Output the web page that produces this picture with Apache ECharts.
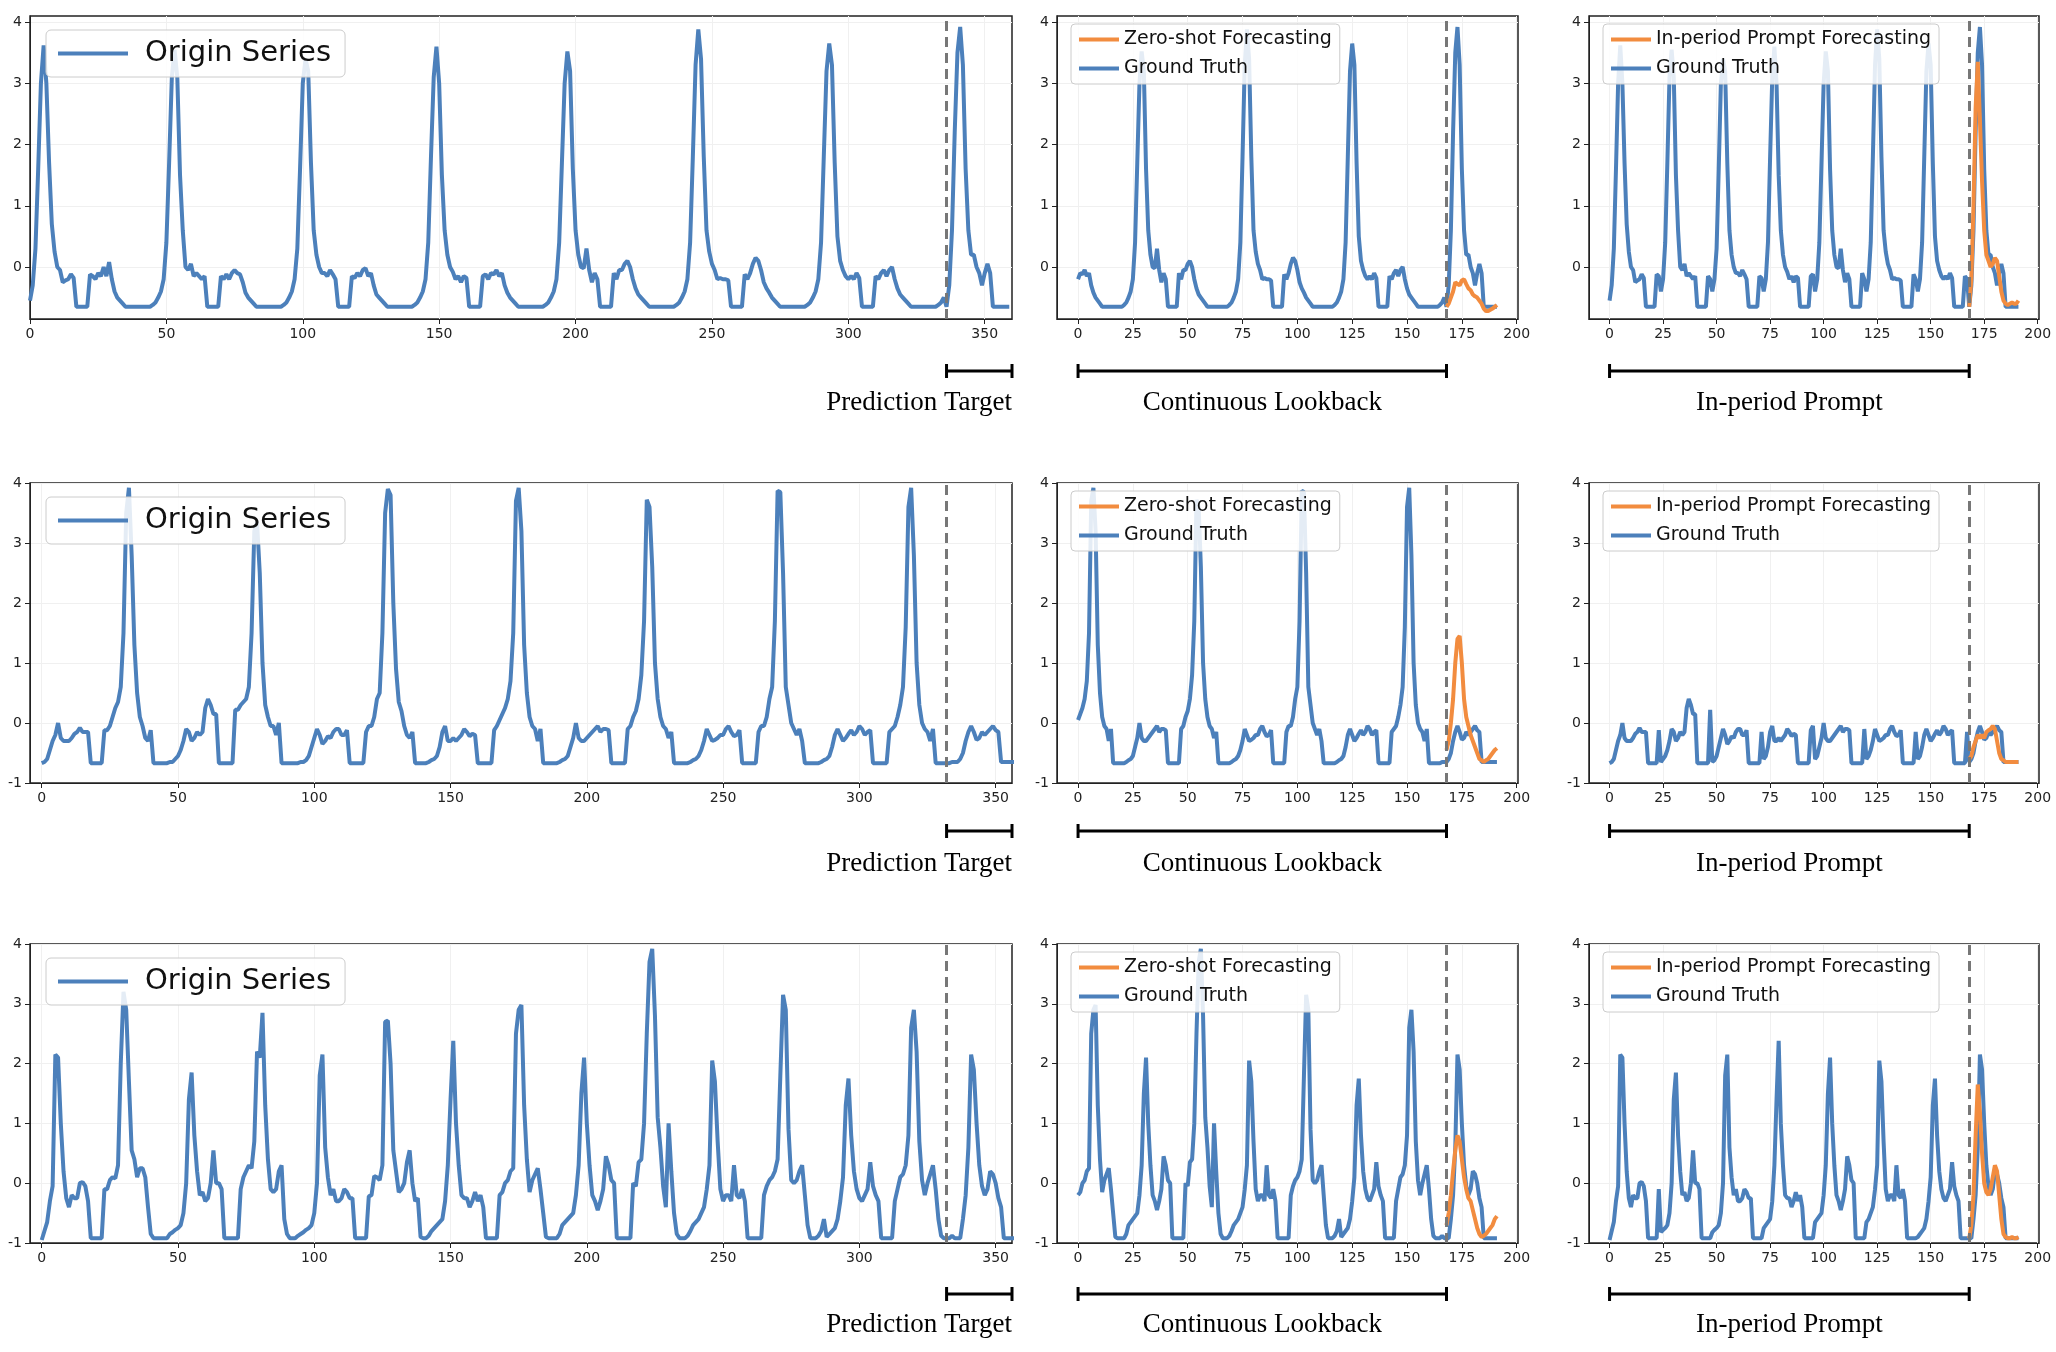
<!DOCTYPE html>
<html>
<head>
<meta charset="utf-8">
<script src="https://cdn.jsdelivr.net/npm/echarts@6/dist/echarts.min.js"></script>
<style>html,body{margin:0;padding:0;background:#fff}#main{width:2056px;height:1352px}</style>
</head>
<body>
<div id="main"></div>
<script>
// row 1 origin series (360 hourly points)
var origin1 = [].concat(
  [-0.55,-0.3,0.3,1.6,3.0,3.62,3.0,1.7,0.7,0.25,0.0,-0.05,-0.25,-0.22,-0.2,-0.12,-0.18,-0.65,-0.65,-0.65,-0.65,-0.65,-0.12,-0.15,-0.2,-0.1,-0.15,0.0,-0.15,0.08,-0.2,-0.4,-0.5,-0.55,-0.6,-0.65,-0.65,-0.65,-0.65,-0.65,-0.65,-0.65,-0.65,-0.65,-0.65,-0.62,-0.58,-0.5],
  [-0.4,-0.2,0.4,1.7,3.1,3.55,3.1,1.5,0.6,0.0,-0.05,0.05,-0.15,-0.1,-0.15,-0.2,-0.15,-0.65,-0.65,-0.65,-0.65,-0.65,-0.15,-0.2,-0.12,-0.2,-0.1,-0.05,-0.1,-0.12,-0.25,-0.42,-0.5,-0.55,-0.6,-0.65,-0.65,-0.65,-0.65,-0.65,-0.65,-0.65,-0.65,-0.65,-0.65,-0.62,-0.58,-0.5],
  [-0.4,-0.2,0.3,1.6,3.0,3.4,3.2,1.7,0.6,0.2,0.0,-0.1,-0.1,-0.15,-0.05,-0.12,-0.2,-0.65,-0.65,-0.65,-0.65,-0.65,-0.15,-0.18,-0.1,-0.15,-0.05,-0.02,-0.15,-0.1,-0.3,-0.45,-0.5,-0.55,-0.6,-0.65,-0.65,-0.65,-0.65,-0.65,-0.65,-0.65,-0.65,-0.65,-0.65,-0.62,-0.58,-0.5],
  [-0.4,-0.2,0.4,1.8,3.1,3.6,3.0,1.5,0.6,0.2,0.0,-0.08,-0.2,-0.15,-0.25,-0.15,-0.18,-0.65,-0.65,-0.65,-0.65,-0.65,-0.15,-0.12,-0.2,-0.1,-0.12,-0.05,-0.15,-0.1,-0.3,-0.42,-0.5,-0.55,-0.6,-0.65,-0.65,-0.65,-0.65,-0.65,-0.65,-0.65,-0.65,-0.65,-0.65,-0.62,-0.58,-0.5],
  [-0.4,-0.2,0.4,1.7,3.0,3.52,3.2,1.6,0.6,0.2,0.0,-0.02,0.3,-0.05,-0.25,-0.1,-0.2,-0.65,-0.65,-0.65,-0.65,-0.65,-0.1,-0.2,-0.05,-0.05,0.05,0.1,0.0,-0.2,-0.35,-0.45,-0.5,-0.55,-0.6,-0.65,-0.65,-0.65,-0.65,-0.65,-0.65,-0.65,-0.65,-0.65,-0.65,-0.62,-0.58,-0.5],
  [-0.4,-0.2,0.4,1.8,3.3,3.88,3.4,1.8,0.6,0.25,0.05,-0.05,-0.2,-0.18,-0.2,-0.2,-0.22,-0.65,-0.65,-0.65,-0.65,-0.65,-0.12,-0.2,-0.1,0.05,0.15,0.1,-0.05,-0.25,-0.35,-0.42,-0.5,-0.55,-0.6,-0.65,-0.65,-0.65,-0.65,-0.65,-0.65,-0.65,-0.65,-0.65,-0.65,-0.62,-0.58,-0.5],
  [-0.4,-0.2,0.4,1.8,3.2,3.65,3.3,1.7,0.5,0.1,-0.05,-0.15,-0.2,-0.15,-0.2,-0.1,-0.18,-0.65,-0.65,-0.65,-0.65,-0.65,-0.15,-0.2,-0.1,-0.05,-0.15,-0.05,0.0,-0.2,-0.35,-0.45,-0.5,-0.55,-0.6,-0.65,-0.65,-0.65,-0.65,-0.65,-0.65,-0.65,-0.65,-0.65,-0.65,-0.62,-0.58,-0.5],
  [-0.65,-0.3,0.6,2.2,3.5,3.92,3.3,1.6,0.6,0.2,0.2,0.0,-0.1,-0.3,-0.1,0.05,-0.1,-0.65,-0.65,-0.65,-0.65,-0.65,-0.65,-0.65]
);
// row 2 origin series
var origin2 = [].concat(
  [-0.67,-0.65,-0.6,-0.45,-0.3,-0.2,0.0,-0.25,-0.3,-0.3,-0.3,-0.25,-0.18,-0.15,-0.08,-0.15,-0.15,-0.15,-0.67,-0.67,-0.67,-0.67,-0.67,-0.12,-0.12,-0.05,0.1,0.25,0.35,0.6,1.5,3.5,3.92,2.8,1.3,0.5,0.1,-0.05,-0.25,-0.3,-0.12,-0.67,-0.67,-0.67,-0.67,-0.67,-0.67,-0.65],
  [-0.65,-0.6,-0.55,-0.45,-0.3,-0.1,-0.15,-0.3,-0.25,-0.15,-0.2,-0.15,0.25,0.4,0.3,0.15,0.15,-0.67,-0.67,-0.67,-0.67,-0.67,-0.67,0.22,0.22,0.3,0.35,0.4,0.6,1.5,3.2,3.35,2.5,1.0,0.3,0.1,-0.05,-0.05,-0.2,0.0,-0.67,-0.67,-0.67,-0.67,-0.67,-0.67,-0.67,-0.65],
  [-0.65,-0.62,-0.55,-0.4,-0.25,-0.1,-0.2,-0.35,-0.3,-0.22,-0.25,-0.15,-0.1,-0.1,-0.2,-0.2,-0.12,-0.67,-0.67,-0.67,-0.67,-0.67,-0.67,-0.15,-0.05,-0.05,0.1,0.4,0.5,1.5,3.5,3.9,3.8,2.0,0.9,0.35,0.2,-0.05,-0.2,-0.25,-0.15,-0.67,-0.67,-0.67,-0.67,-0.67,-0.65,-0.62],
  [-0.6,-0.55,-0.4,-0.15,-0.05,-0.3,-0.3,-0.25,-0.3,-0.25,-0.2,-0.1,-0.15,-0.22,-0.18,-0.2,-0.67,-0.67,-0.67,-0.67,-0.67,-0.67,-0.12,-0.05,0.05,0.15,0.25,0.4,0.7,1.5,3.7,3.92,3.2,1.3,0.5,0.1,-0.05,-0.1,-0.3,-0.1,-0.67,-0.67,-0.67,-0.67,-0.67,-0.67,-0.65,-0.62],
  [-0.6,-0.55,-0.4,-0.25,0.0,-0.25,-0.3,-0.3,-0.25,-0.2,-0.15,-0.1,-0.05,-0.15,-0.1,-0.1,-0.12,-0.67,-0.67,-0.67,-0.67,-0.67,-0.67,-0.1,-0.05,0.1,0.2,0.4,0.8,1.7,3.72,3.6,2.6,1.0,0.4,0.1,-0.05,-0.1,-0.25,-0.15,-0.67,-0.67,-0.67,-0.67,-0.67,-0.67,-0.65,-0.62],
  [-0.6,-0.55,-0.45,-0.3,-0.1,-0.2,-0.3,-0.28,-0.25,-0.2,-0.2,-0.1,-0.05,-0.15,-0.22,-0.2,-0.12,-0.67,-0.67,-0.67,-0.67,-0.67,-0.67,-0.15,-0.05,-0.05,0.1,0.4,0.6,1.7,3.87,3.85,2.5,0.6,0.3,0.0,-0.1,-0.2,-0.1,-0.3,-0.67,-0.67,-0.67,-0.67,-0.67,-0.67,-0.65,-0.62],
  [-0.6,-0.55,-0.4,-0.2,-0.1,-0.2,-0.3,-0.25,-0.18,-0.12,-0.2,-0.15,-0.05,-0.1,-0.2,-0.15,-0.12,-0.67,-0.67,-0.67,-0.67,-0.67,-0.67,-0.15,-0.1,-0.05,0.1,0.3,0.6,1.6,3.6,3.92,2.8,1.0,0.3,0.0,-0.1,-0.15,-0.3,-0.1,-0.67,-0.67,-0.67,-0.67,-0.67,-0.67,-0.65,-0.65],
  [-0.65,-0.6,-0.5,-0.3,-0.15,-0.05,-0.15,-0.28,-0.25,-0.15,-0.2,-0.15,-0.1,-0.05,-0.12,-0.15,-0.65,-0.65,-0.65,-0.65,-0.65,-0.65,-0.65,-0.65]
);
// row 3 origin series
var origin3 = [].concat(
  [-0.95,-0.8,-0.65,-0.3,-0.05,2.15,2.1,1.0,0.2,-0.25,-0.4,-0.2,-0.25,-0.25,0.0,0.02,-0.05,-0.3,-0.92,-0.92,-0.92,-0.92,-0.92,-0.1,-0.1,0.05,0.1,0.08,0.3,2.0,3.2,2.9,1.7,0.55,0.4,0.1,0.25,0.25,0.1,-0.4,-0.85,-0.92,-0.92,-0.92,-0.92,-0.92,-0.92,-0.85],
  [-0.82,-0.78,-0.75,-0.7,-0.5,0.0,1.4,1.85,0.8,0.2,-0.2,-0.15,-0.3,-0.25,0.0,0.55,0.0,0.0,-0.1,-0.92,-0.92,-0.92,-0.92,-0.92,-0.92,-0.1,0.1,0.2,0.3,0.25,0.7,2.2,2.1,2.85,1.3,0.4,-0.1,-0.15,-0.1,0.2,0.3,-0.6,-0.85,-0.92,-0.92,-0.92,-0.88,-0.85],
  [-0.82,-0.78,-0.75,-0.7,-0.5,0.0,1.8,2.15,0.6,0.1,-0.2,-0.1,-0.3,-0.3,-0.25,-0.1,-0.15,-0.25,-0.25,-0.92,-0.92,-0.92,-0.92,-0.92,-0.22,-0.2,0.12,0.1,0.05,0.3,2.7,2.72,2.0,0.55,0.2,-0.15,-0.1,0.0,0.35,0.55,0.0,-0.3,-0.25,-0.9,-0.92,-0.92,-0.88,-0.8],
  [-0.75,-0.7,-0.65,-0.6,-0.3,0.3,1.4,2.38,1.0,0.3,-0.2,-0.25,-0.25,-0.4,-0.3,-0.15,-0.3,-0.2,-0.4,-0.92,-0.92,-0.92,-0.92,-0.92,-0.2,-0.15,0.0,0.05,0.2,0.25,2.5,2.9,2.98,1.3,0.4,-0.15,0.05,0.15,0.25,-0.1,-0.5,-0.9,-0.92,-0.92,-0.92,-0.92,-0.85,-0.7],
  [-0.65,-0.6,-0.55,-0.5,-0.2,0.3,1.5,2.1,1.0,0.3,-0.2,-0.3,-0.45,-0.3,-0.1,0.45,0.3,0.05,0.0,-0.92,-0.92,-0.92,-0.92,-0.92,-0.92,0.0,-0.05,0.35,0.4,1.0,2.5,3.7,3.92,2.8,1.1,0.6,-0.05,-0.4,1.0,0.2,-0.5,-0.85,-0.92,-0.92,-0.92,-0.88,-0.8,-0.7],
  [-0.65,-0.6,-0.5,-0.4,-0.1,0.3,2.05,1.7,0.7,-0.1,-0.3,-0.2,-0.2,-0.3,0.3,-0.2,-0.25,-0.1,-0.3,-0.92,-0.92,-0.92,-0.92,-0.92,-0.92,-0.2,-0.05,0.05,0.1,0.2,0.4,1.8,3.15,2.9,0.9,0.05,0.0,0.05,0.2,0.3,-0.2,-0.7,-0.92,-0.92,-0.92,-0.88,-0.8,-0.6],
  [-0.9,-0.85,-0.8,-0.75,-0.6,-0.3,0.1,1.3,1.75,0.8,0.2,-0.1,-0.25,-0.3,-0.2,-0.1,0.35,-0.05,-0.2,-0.3,-0.92,-0.92,-0.92,-0.92,-0.92,-0.3,-0.1,0.1,0.15,0.3,0.8,2.6,2.9,2.2,0.7,0.05,-0.2,0.0,0.15,0.3,-0.1,-0.6,-0.88,-0.92,-0.92,-0.92,-0.88,-0.92],
  [-0.92,-0.92,-0.6,-0.2,0.6,2.15,1.9,1.0,0.3,-0.05,-0.2,-0.1,0.2,0.15,0.0,-0.25,-0.4,-0.92,-0.92,-0.92,-0.92,-0.92,-0.92,-0.92]
);

// forecasts for steps 168..191
var zeroShot1 = [-0.65,-0.6,-0.5,-0.4,-0.25,-0.28,-0.3,-0.22,-0.2,-0.28,-0.35,-0.38,-0.45,-0.48,-0.5,-0.55,-0.6,-0.68,-0.72,-0.72,-0.7,-0.68,-0.65,-0.62];
var inPeriod1 = [-0.65,-0.2,1.0,2.6,3.35,2.4,1.4,0.6,0.2,0.1,0.0,0.05,0.15,0.1,-0.15,-0.4,-0.55,-0.6,-0.62,-0.6,-0.58,-0.6,-0.6,-0.55];
var zeroShot2 = [-0.45,-0.3,0.0,0.4,1.0,1.4,1.45,1.0,0.4,0.1,-0.05,-0.2,-0.3,-0.4,-0.5,-0.6,-0.62,-0.65,-0.62,-0.6,-0.55,-0.5,-0.45,-0.42];
var inPeriod2 = [-0.6,-0.55,-0.4,-0.3,-0.2,-0.25,-0.2,-0.25,-0.15,-0.12,-0.1,-0.05,-0.1,-0.3,-0.5,-0.6,-0.62,-0.65,-0.65,-0.65,-0.65,-0.65,-0.65,-0.65];
var zeroShot3 = [-0.7,-0.5,-0.2,0.2,0.55,0.8,0.7,0.4,0.1,-0.1,-0.25,-0.3,-0.45,-0.6,-0.75,-0.85,-0.9,-0.88,-0.85,-0.8,-0.75,-0.7,-0.6,-0.55];
var inPeriod3 = [-0.92,-0.7,-0.2,0.8,1.65,1.2,0.5,0.0,-0.15,-0.2,-0.1,0.1,0.3,0.2,-0.2,-0.6,-0.85,-0.9,-0.92,-0.92,-0.9,-0.92,-0.92,-0.9];

var origins = [origin1, origin2, origin3];
var zeroShots = [zeroShot1, zeroShot2, zeroShot3];
var inPeriods = [inPeriod1, inPeriod2, inPeriod3];
var bottomLabels = ['Prediction Target', 'Continuous Lookback', 'In-period Prompt'];
var leftTicks = [0, 50, 100, 150, 200, 250, 300, 350];
var smallTicks = [0, 25, 50, 75, 100, 125, 150, 175, 200];
var yTicks1 = [0, 1, 2, 3, 4];
var yTicks = [-1, 0, 1, 2, 3, 4];
var targetStart = [336, 332, 332], targetEnd = [360, 356, 356];

var BLUE = '#4c80bb', ORANGE = '#f28c3f';
var rowTop = [16, 483, 944], rowH = [303, 300, 299];
var cols = [{left: 30, w: 982}, {left: 1057, w: 461}, {left: 1589, w: 450}];

function pairs(arr, start) { return arr.map(function (v, i) { return [start + i, v]; }); }
function promptSeries(o) {
  var out = [];
  for (var k = 0; k < 7; k++) out = out.concat(o.slice(48 * k, 48 * k + 24));
  return out.concat(o.slice(336, 360));
}

var grids = [], xAxes = [], yAxes = [], series = [], legends = [];
var axisLabel = {color: '#222', fontSize: 14, fontFamily: 'DejaVu Sans'};
var split = {show: true, lineStyle: {color: '#f0f0f0', width: 1}};
for (var r = 0; r < 3; r++) {
  for (var c = 0; c < 3; c++) {
    var g = r * 3 + c;
    grids.push({left: cols[c].left, width: cols[c].w, top: rowTop[r], height: rowH[r], show: true, borderColor: '#222', borderWidth: 1.5, backgroundColor: '#fff'});
    var xmin, xmax, xt;
    if (c === 0) { xmin = r === 0 ? 0 : -4.3; xmax = r === 0 ? 360 : 356; xt = leftTicks; }
    else { xmin = -9.6; xmax = 200.6; xt = smallTicks; }
    var yt = r === 0 ? yTicks1 : yTicks;
    xAxes.push({type: 'value', gridIndex: g, min: xmin, max: xmax,
      axisLine: {show: true, onZero: false, lineStyle: {color: '#222'}}, axisTick: {show: true, customValues: xt, length: 5, lineStyle: {color: '#222'}},
      axisLabel: Object.assign({customValues: xt}, axisLabel), splitLine: split});
    yAxes.push({type: 'value', gridIndex: g, min: r === 0 ? -0.85 : -1, max: r === 0 ? 4.1 : 4,
      axisLine: {show: true, onZero: false, lineStyle: {color: '#222'}}, axisTick: {show: true, customValues: yt, length: 5, lineStyle: {color: '#222'}},
      axisLabel: Object.assign({customValues: yt}, axisLabel), splitLine: split});
    var o = origins[r];
    var vline = {silent: true, symbol: 'none', label: {show: false}, lineStyle: {color: '#777', type: [10, 6], width: 3}};
    if (c === 0) {
      series.push({name: 'Origin Series', type: 'line', xAxisIndex: g, yAxisIndex: g, data: pairs(o, 0), showSymbol: false,
        lineStyle: {color: BLUE, width: 4}, itemStyle: {color: BLUE},
        markLine: Object.assign({data: [{xAxis: targetStart[r]}]}, vline)});
      legends.push({data: ['Origin Series'], left: 46, top: rowTop[r] + 14, orient: 'vertical', itemWidth: 70, itemHeight: 4, icon: 'rect',
        textStyle: {fontSize: 29, fontFamily: 'DejaVu Sans', color: '#111', padding: [0, 0, 0, 12]}, padding: [9, 14, 9, 12],
        borderColor: '#ccc', borderWidth: 1, borderRadius: 5, backgroundColor: 'rgba(255,255,255,0.85)'});
    } else {
      var gt = c === 1 ? o.slice(168) : promptSeries(o);
      var fname = c === 1 ? 'Zero-shot Forecasting' : 'In-period Prompt Forecasting';
      var fc = c === 1 ? zeroShots[r] : inPeriods[r];
      series.push({name: 'Ground Truth', type: 'line', xAxisIndex: g, yAxisIndex: g, data: pairs(gt, 0), showSymbol: false,
        lineStyle: {color: BLUE, width: 4}, itemStyle: {color: BLUE},
        markLine: Object.assign({data: [{xAxis: 168}]}, vline)});
      series.push({name: fname, type: 'line', xAxisIndex: g, yAxisIndex: g, data: pairs(fc, 168), showSymbol: false, z: 3,
        lineStyle: {color: ORANGE, width: 4}, itemStyle: {color: ORANGE}});
      legends.push({data: [fname, 'Ground Truth'], left: cols[c].left + 14, top: rowTop[r] + 8, orient: 'vertical', itemWidth: 40, itemHeight: 4, icon: 'rect', itemGap: 10,
        textStyle: {fontSize: 19, fontFamily: 'DejaVu Sans', color: '#111'}, padding: [6, 8, 6, 8],
        borderColor: '#ccc', borderWidth: 1, borderRadius: 4, backgroundColor: 'rgba(255,255,255,0.85)'});
    }
  }
}

var chart = echarts.init(document.getElementById('main'));
chart.setOption({animation: false, backgroundColor: '#fff', grid: grids, xAxis: xAxes, yAxis: yAxes, series: series, legend: legends});

// brackets and captions under each panel
var bracketY = [371, 831, 1294], labelY = [403, 864, 1325];
var gfx = [];
for (var r2 = 0; r2 < 3; r2++) {
  for (var c2 = 0; c2 < 3; c2++) {
    var gi = r2 * 3 + c2;
    var a = c2 === 0 ? targetStart[r2] : 0, b = c2 === 0 ? targetEnd[r2] : 168;
    var x1 = chart.convertToPixel({xAxisIndex: gi}, a), x2 = chart.convertToPixel({xAxisIndex: gi}, b);
    var y = bracketY[r2];
    var ls = {stroke: '#000', lineWidth: 3};
    gfx.push({type: 'line', shape: {x1: x1, y1: y, x2: x2, y2: y}, style: ls});
    gfx.push({type: 'line', shape: {x1: x1, y1: y - 7, x2: x1, y2: y + 7}, style: ls});
    gfx.push({type: 'line', shape: {x1: x2, y1: y - 7, x2: x2, y2: y + 7}, style: ls});
    gfx.push({type: 'text', x: c2 === 0 ? x2 : (x1 + x2) / 2, y: labelY[r2],
      style: {text: bottomLabels[c2], font: '27px "Liberation Serif"', fill: '#000', align: c2 === 0 ? 'right' : 'center', verticalAlign: 'middle'}});
  }
}
chart.setOption({graphic: gfx});
</script>
</body>
</html>
